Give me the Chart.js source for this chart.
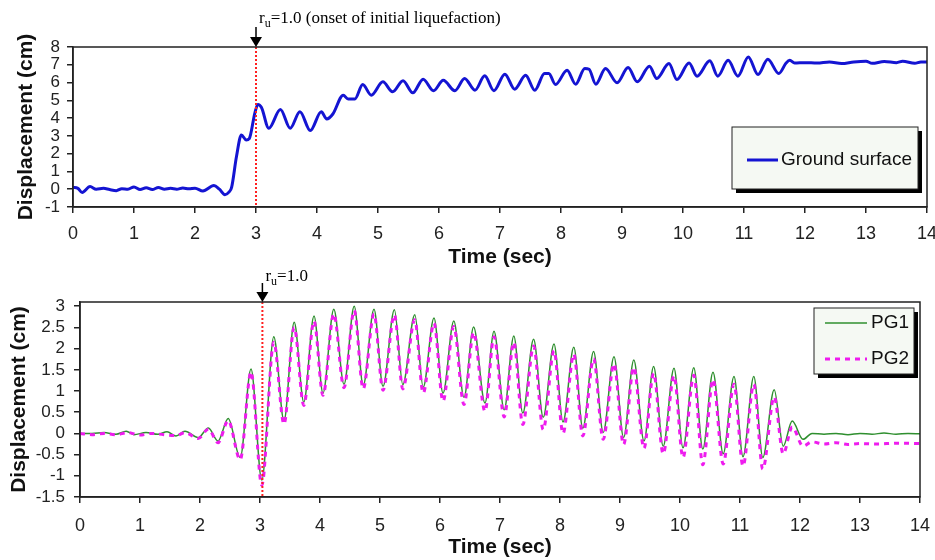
<!DOCTYPE html>
<html>
<head>
<meta charset="utf-8">
<script src="https://cdn.jsdelivr.net/npm/chart.js@4.4.1/dist/chart.umd.min.js"></script>
<style>
  body { margin: 0; background: #fff; }
  #wrap { position: relative; width: 935px; height: 560px; }
  .box { position: absolute; left: 0; width: 935px; }
  #top { top: 0; height: 270px; }
  #bot { top: 270px; height: 290px; }
</style>
</head>
<body>
<div id="wrap">
  <div class="box" id="top"><canvas id="topChart"></canvas></div>
  <div class="box" id="bot"><canvas id="botChart"></canvas></div>
</div>
<script>
// ===== DATA =====
const xTicks = [0, 1, 2, 3, 4, 5, 6, 7, 8, 9, 10, 11, 12, 13, 14];
const topYTicks = [-1, 0, 1, 2, 3, 4, 5, 6, 7, 8];
const botYTicks = [-1.5, -1, -0.5, 0, 0.5, 1, 1.5, 2, 2.5, 3];

// ground surface displacement (cm) vs time (sec)
const groundTime = [0, 0.08, 0.15, 0.28, 0.38, 0.5, 0.6, 0.71, 0.8, 0.9, 1.0, 1.1, 1.2, 1.3, 1.4, 1.5, 1.6, 1.7, 1.8, 1.9, 2.0,
  2.13, 2.31, 2.4, 2.49, 2.56, 2.6, 2.68, 2.76, 2.84, 2.89, 2.98, 3.03, 3.09, 3.21, 3.4, 3.56, 3.72, 3.89, 4.07, 4.16, 4.26,
  4.43, 4.51, 4.62, 4.75, 4.89, 5.08, 5.24, 5.41, 5.57, 5.74, 5.91, 6.07, 6.26, 6.42, 6.59, 6.75, 6.9, 7.08, 7.24, 7.42,
  7.57, 7.73, 7.8, 7.91, 8.1, 8.24, 8.39, 8.46, 8.57, 8.73, 8.92, 9.1, 9.25, 9.45, 9.57, 9.77, 9.9, 10.1, 10.23, 10.44,
  10.57, 10.74, 10.9, 11.07, 11.23, 11.39, 11.57, 11.69, 11.75, 11.83, 12.0, 12.2, 12.4, 12.6, 12.8, 13.0, 13.1, 13.3,
  13.5, 13.6, 13.8, 13.9, 14.0];
const groundDisp = [0.10, 0.05, -0.18, 0.15, 0.0, 0.05, -0.02, -0.08, 0.03, 0.0, 0.13, -0.02, 0.08, -0.02, 0.1, 0.0, 0.05, 0.0, 0.07, 0.02, 0.06,
  -0.1, 0.21, 0.0, -0.31, -0.15, 0.1, 1.84, 3.05, 2.77, 2.85, 4.27, 4.77, 4.6, 3.43, 4.49, 3.43, 4.36, 3.3, 4.36, 3.95, 4.23,
  5.29, 5.07, 5.07, 5.89, 5.29, 6.04, 5.48, 6.1, 5.42, 6.19, 5.54, 6.13, 5.54, 6.23, 5.57, 6.38, 5.54, 6.47, 5.63, 6.41,
  5.57, 6.51, 6.51, 5.89, 6.69, 5.91, 6.79, 6.75, 5.91, 6.79, 5.99, 6.85, 6.04, 6.92, 6.23, 7.07, 6.17, 7.1, 6.36, 7.22,
  6.36, 7.25, 6.36, 7.44, 6.45, 7.31, 6.51, 7.1, 7.25, 7.1, 7.12, 7.1, 7.16, 7.07, 7.16, 7.2, 7.08, 7.18,
  7.12, 7.2, 7.08, 7.16, 7.16];

// PG1 displacement (cm) vs time (sec)
const pg1Time = [0, 0.2, 0.4, 0.6, 0.77, 0.9, 1.1, 1.3, 1.45, 1.6, 1.75, 1.97, 2.14, 2.3, 2.47, 2.67, 2.85, 3.03, 3.23, 3.4,
  3.57, 3.73, 3.9, 4.05, 4.23, 4.4, 4.57, 4.72, 4.9, 5.05, 5.24, 5.38, 5.58, 5.72, 5.9, 6.05, 6.23, 6.4, 6.56, 6.75, 6.9,
  7.07, 7.23, 7.38, 7.56, 7.72, 7.9, 8.05, 8.23, 8.38, 8.56, 8.72, 8.9, 9.06, 9.23, 9.4, 9.56, 9.72, 9.9, 10.05, 10.23,
  10.38, 10.55, 10.72, 10.9, 11.05, 11.23, 11.38, 11.57, 11.72, 11.87, 12.05, 12.2, 12.4, 12.6, 12.8, 13.0, 13.2, 13.4,
  13.6, 13.8, 14.0];
const pg1Disp = [0, 0.0, 0.02, -0.02, 0.05, -0.03, 0.02, -0.02, 0.04, -0.06, 0.05, -0.1, 0.13, -0.18, 0.35, -0.57, 1.52, -1.1, 2.28, 0.3,
  2.62, 0.74, 2.77, 0.95, 2.93, 1.16, 3.0, 1.13, 2.93, 1.11, 2.92, 1.15, 2.8, 1.09, 2.72, 0.95, 2.65, 0.85, 2.51, 0.72, 2.41,
  0.56, 2.3, 0.48, 2.22, 0.38, 2.11, 0.27, 2.03, 0.12, 1.93, 0.02, 1.81, -0.1, 1.73, -0.18, 1.58, -0.3, 1.54, -0.34, 1.55,
  -0.37, 1.44, -0.48, 1.34, -0.55, 1.34, -0.57, 1.03, -0.3, 0.29, -0.14, 0.0, -0.02, 0.0, -0.03, 0.0, -0.02, 0.01,
  -0.02, 0.0, -0.01];

// PG2 displacement (cm) vs time (sec)
const pg2Time = [0, 0.2, 0.4, 0.6, 0.8, 1.0, 1.2, 1.4, 1.6, 1.75, 1.97, 2.14, 2.3, 2.47, 2.67, 2.85, 3.03, 3.23, 3.4,
  3.57, 3.73, 3.9, 4.05, 4.23, 4.4, 4.57, 4.72, 4.9, 5.05, 5.24, 5.38, 5.58, 5.72, 5.9, 6.05, 6.23, 6.4, 6.56, 6.75, 6.9,
  7.07, 7.23, 7.38, 7.56, 7.72, 7.9, 8.05, 8.23, 8.38, 8.56, 8.72, 8.9, 9.06, 9.23, 9.4, 9.56, 9.72, 9.9, 10.05, 10.23,
  10.38, 10.55, 10.72, 10.9, 11.05, 11.23, 11.38, 11.57, 11.72, 11.87, 12.05, 12.2, 12.4, 12.6, 12.8, 13.0, 13.3, 13.6, 14.0];
const pg2Disp = [0.0, -0.03, 0.0, -0.03, 0.02, -0.04, 0.0, -0.03, -0.05, 0.02, -0.12, 0.1, -0.22, 0.3, -0.62, 1.45, -1.22, 2.15, 0.22,
  2.5, 0.66, 2.65, 0.9, 2.82, 1.08, 2.9, 1.05, 2.82, 1.02, 2.8, 1.05, 2.68, 0.95, 2.6, 0.76, 2.52, 0.68, 2.38, 0.52, 2.28,
  0.39, 2.15, 0.21, 2.06, 0.09, 1.95, 0.0, 1.87, -0.06, 1.76, -0.14, 1.64, -0.26, 1.56, -0.35, 1.42, -0.48, 1.36, -0.57, 1.37,
  -0.74, 1.27, -0.72, 1.16, -0.77, 1.16, -0.84, 0.86, -0.48, 0.15, -0.3, -0.2, -0.25, -0.22, -0.26, -0.24, -0.25, -0.23, -0.24];

const onsetTop = 3.0;
const onsetBot = 3.04;
const onsetTopText = "=1.0 (onset of initial liquefaction)";
const onsetBotText = "=1.0";

// ===== helpers =====
function toXY(ts, ys) { return ts.map((t, i) => ({ x: t, y: ys[i] })); }

const SANS = '"Liberation Sans", Arial, sans-serif';
const SERIF = '"Liberation Serif", "Times New Roman", serif';

// frame, onset marker and boxed legend
const marks = {
  id: 'marks',
  afterDatasetsDraw(chart, args, o) {
    const ctx = chart.ctx, a = chart.chartArea;
    const px = chart.scales.x.getPixelForValue(o.onset);
    ctx.save();

    // red dotted onset line
    ctx.strokeStyle = '#ff2020';
    ctx.lineWidth = 2;
    ctx.setLineDash([2, 2]);
    ctx.beginPath(); ctx.moveTo(px, a.top); ctx.lineTo(px, a.bottom); ctx.stroke();
    ctx.setLineDash([]);

    // plot frame
    ctx.strokeStyle = '#222';
    ctx.lineWidth = 1.5;
    ctx.strokeRect(a.left, a.top, a.right - a.left, a.bottom - a.top);

    // arrow
    ctx.strokeStyle = '#000'; ctx.fillStyle = '#000';
    ctx.beginPath(); ctx.moveTo(px, a.top - o.arrowLen); ctx.lineTo(px, a.top - 8); ctx.stroke();
    ctx.beginPath();
    ctx.moveTo(px - 6, a.top - 10); ctx.lineTo(px + 6, a.top - 10); ctx.lineTo(px, a.top);
    ctx.closePath(); ctx.fill();

    // r_u label
    ctx.textAlign = 'left'; ctx.textBaseline = 'alphabetic';
    let tx = px + 3;
    const ty = a.top - o.textGap;
    ctx.font = '17px ' + SERIF;
    ctx.fillText('r', tx, ty); tx += ctx.measureText('r').width;
    ctx.font = '12px ' + SERIF;
    ctx.fillText('u', tx, ty + 4); tx += ctx.measureText('u').width;
    ctx.font = '17px ' + SERIF;
    ctx.fillText(o.text, tx, ty);

    // legend box with shadow
    const L = o.legend;
    ctx.fillStyle = '#000';
    ctx.fillRect(L.x + 4, L.y + 4, L.w, L.h);
    ctx.fillStyle = '#f5f9f3';
    ctx.fillRect(L.x, L.y, L.w, L.h);
    ctx.strokeStyle = '#222'; ctx.lineWidth = 1;
    ctx.strokeRect(L.x, L.y, L.w, L.h);
    ctx.font = '19px ' + SANS;
    ctx.textBaseline = 'middle';
    chart.data.datasets.forEach((ds, i) => {
      const ry = L.rows[i];
      ctx.strokeStyle = ds.borderColor;
      ctx.lineWidth = ds.borderWidth;
      ctx.setLineDash(ds.borderDash || []);
      ctx.beginPath(); ctx.moveTo(L.x1, ry); ctx.lineTo(L.x2, ry); ctx.stroke();
      ctx.setLineDash([]);
      ctx.fillStyle = '#111';
      ctx.fillText(ds.label, L.tx, ry);
    });
    ctx.restore();
  }
};

function axes(yMin, yMax, yTicks, yWidth, yTitlePad, yTickPad, xTickPad) {
  const grid = { display: true, drawOnChartArea: false, drawTicks: true, tickLength: 6, color: '#222', lineWidth: 1.5 };
  const border = { display: true, color: '#222', width: 1.5 };
  return {
    x: {
      type: 'linear', min: 0, max: 14,
      afterBuildTicks: s => { s.ticks = xTicks.map(v => ({ value: v })); },
      afterFit: s => { s.height = 63; s.paddingLeft = 0; s.paddingRight = 0; },
      grid, border,
      ticks: { color: '#222', font: { family: SANS, size: 18 }, padding: xTickPad, maxRotation: 0, autoSkip: false, callback: v => String(v) },
      title: { display: true, text: 'Time (sec)', color: '#111', font: { family: SANS, size: 21, weight: 'bold' }, padding: { top: 0, bottom: 0 } }
    },
    y: {
      min: yMin, max: yMax,
      afterBuildTicks: s => { s.ticks = yTicks.map(v => ({ value: v })); },
      afterFit: s => { s.width = yWidth; s.paddingTop = 0; s.paddingBottom = 0; },
      grid, border,
      ticks: { color: '#222', font: { family: SANS, size: 17 }, padding: yTickPad, autoSkip: false, callback: v => String(v) },
      title: { display: true, text: 'Displacement (cm)', color: '#111', font: { family: SANS, size: 21, weight: 'bold' }, padding: { top: yTitlePad, bottom: 0 } }
    }
  };
}

Chart.defaults.animation = false;

new Chart(document.getElementById('topChart'), {
  type: 'line',
  data: {
    datasets: [{
      label: 'Ground surface',
      data: toXY(groundTime, groundDisp),
      borderColor: '#1414d2',
      borderWidth: 3,
      pointRadius: 0,
      cubicInterpolationMode: 'monotone'
    }]
  },
  options: {
    responsive: true, maintainAspectRatio: false, devicePixelRatio: 1,
    layout: { padding: { top: 47, right: 8, left: 0, bottom: 0 } },
    plugins: {
      legend: { display: false }, tooltip: { enabled: false },
      marks: {
        onset: onsetTop, text: onsetTopText, arrowLen: 20, textGap: 24,
        legend: { x: 732, y: 127, w: 186, h: 62, x1: 747, x2: 778, tx: 781, rows: [160] }
      }
    },
    scales: axes(-1, 8, topYTicks, 73, 14, 7, 10)
  },
  plugins: [marks]
});

new Chart(document.getElementById('botChart'), {
  type: 'line',
  data: {
    datasets: [{
      label: 'PG1',
      data: toXY(pg1Time, pg1Disp),
      borderColor: '#2f8f2f',
      borderWidth: 1.5,
      pointRadius: 0,
      order: 1,
      cubicInterpolationMode: 'monotone'
    }, {
      label: 'PG2',
      data: toXY(pg2Time, pg2Disp),
      borderColor: '#ee1cee',
      borderWidth: 3,
      borderDash: [5, 5],
      pointRadius: 0,
      order: 0,
      cubicInterpolationMode: 'monotone'
    }]
  },
  options: {
    responsive: true, maintainAspectRatio: false, devicePixelRatio: 1,
    layout: { padding: { top: 32, right: 15, left: 0, bottom: 0 } },
    plugins: {
      legend: { display: false }, tooltip: { enabled: false },
      marks: {
        onset: onsetBot, text: onsetBotText, arrowLen: 19, textGap: 21,
        legend: { x: 814, y: 38, w: 100, h: 66, x1: 825, x2: 867, tx: 871, rows: [53, 89] }
      }
    },
    scales: axes(-1.5, 3.1, botYTicks, 80, 7, 9, 12)
  },
  plugins: [marks]
});
</script>
</body>
</html>
